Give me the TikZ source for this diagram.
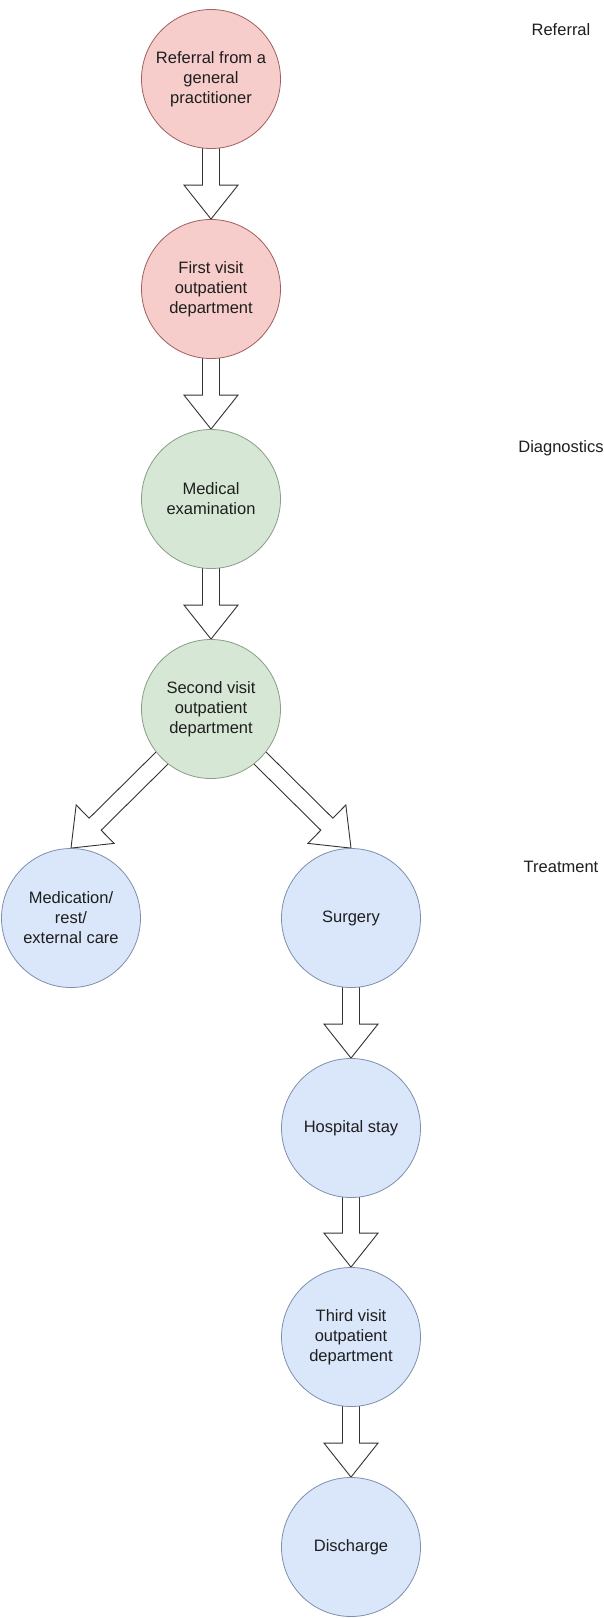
\documentclass[tikz,border=0pt]{standalone}
\usepackage{fontspec}
\setmainfont{Liberation Sans}
\usetikzlibrary{calc,backgrounds}
\definecolor{redfill}{HTML}{F6CDCB}
\definecolor{redline}{HTML}{A0605C}
\definecolor{greenfill}{HTML}{D6E8D5}
\definecolor{greenline}{HTML}{8A9E84}
\definecolor{bluefill}{HTML}{DAE7FA}
\definecolor{blueline}{HTML}{7E90AE}
\definecolor{txt}{HTML}{1E1E1E}
\tikzset{
  stage/.style={circle, minimum size=139pt, inner sep=0pt, align=center,
    font=\fontsize{16.5}{20}\selectfont, line width=0.8pt, text=txt},
  redstage/.style={stage, fill=redfill, draw=redline},
  greenstage/.style={stage, fill=greenfill, draw=greenline},
  bluestage/.style={stage, fill=bluefill, draw=blueline},
  phase/.style={font=\fontsize{16.5}{20}\selectfont, text=txt, inner sep=0pt},
  fatarr/.style={draw=black!80, fill=white, line width=0.9pt, line join=miter}
}
\newcommand\fatarrow[2]{%
  \coordinate (fs) at ($(#1)!-5pt!(#2)$);
  \coordinate (ft) at (#2);
  \coordinate (fh) at ($(ft)!34pt!(fs)$);
  \draw[fatarr] ($(fs)!8.5pt!90:(ft)$) -- ($(fh)!8.5pt!90:(ft)$) --
    ($(fh)!27pt!90:(ft)$) -- (ft) -- ($(fh)!27pt!-90:(ft)$) --
    ($(fh)!8.5pt!-90:(ft)$) -- ($(fs)!8.5pt!-90:(ft)$) -- cycle;
}
\begin{document}
\begin{tikzpicture}[x=1pt,y=-1pt]
\useasboundingbox (0,0) rectangle (604,1618);
\node[redstage] (ref) at (211,79) {Referral from a\\general\\practitioner};
\node[redstage] (first) at (211,289) {First visit\\outpatient\\department};
\node[greenstage] (exam) at (211,499) {Medical\\examination};
\node[greenstage] (second) at (211,709) {Second visit\\outpatient\\department};
\node[bluestage] (med) at (71,918) {Medication/\\rest/\\external care};
\node[bluestage] (surg) at (351,918) {Surgery};
\node[bluestage] (hosp) at (351,1128) {Hospital stay};
\node[bluestage] (third) at (351,1337) {Third visit\\outpatient\\department};
\node[bluestage] (dis) at (351,1547) {Discharge};
\node[phase] (p1) at (561,30) {Referral};
\node[phase] (p2) at (561,448) {Diagnostics};
\node[phase] (p3) at (561,867) {Treatment};
\begin{scope}[on background layer]
\fill[white] (0,0) rectangle (604,1618);
\fatarrow{ref.south}{first.north}
\fatarrow{first.south}{exam.north}
\fatarrow{exam.south}{second.north}
\fatarrow{second.south west}{med.north}
\fatarrow{second.south east}{surg.north}
\fatarrow{surg.south}{hosp.north}
\fatarrow{hosp.south}{third.north}
\fatarrow{third.south}{dis.north}
\end{scope}
\end{tikzpicture}
\end{document}
